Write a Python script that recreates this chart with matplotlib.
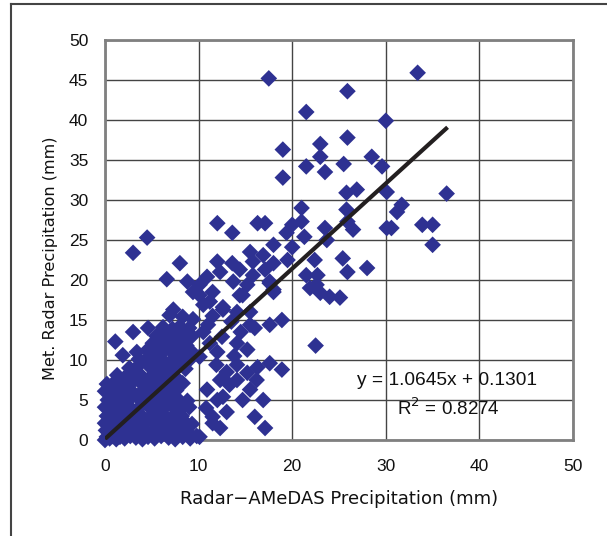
import matplotlib
matplotlib.use('Agg')
import matplotlib.pyplot as plt
from matplotlib.lines import Line2D
import numpy as np

plt.rcParams['font.family'] = ['Liberation Sans', 'DejaVu Sans']

# scattered points (mm)
x_hi = [17.5, 33.4, 25.9, 21.5, 30.0, 19.0, 23.0, 25.9, 23.0, 21.5, 25.5, 28.5, 29.6, 23.5, 19.0,
        31.7, 31.2, 30.1, 30.6, 33.9, 35.0, 36.5, 35.0, 30.1, 26.9, 25.8, 25.8, 26.5, 25.9, 28.0,
        25.4, 25.9, 17.1, 21.0, 20.0, 19.4, 21.0, 21.3, 23.5, 23.7, 18.0, 20.0, 16.9, 18.0, 19.5,
        22.4, 21.5, 22.7, 22.6, 17.6, 18.0, 23.0, 24.0, 25.1, 21.9, 17.1, 17.6, 18.0, 22.5]
y_hi = [45.2, 45.9, 43.6, 41.0, 39.9, 36.3, 37.0, 37.8, 35.4, 34.2, 34.5, 35.4, 34.2, 33.5, 32.8,
        29.4, 28.5, 26.5, 26.5, 26.9, 26.9, 30.8, 24.4, 31.0, 31.3, 30.9, 28.8, 26.3, 27.3, 21.5,
        22.7, 21.0, 27.1, 29.0, 26.9, 25.9, 27.3, 25.4, 26.5, 25.0, 24.4, 24.1, 23.1, 22.1, 22.5,
        22.5, 20.6, 20.6, 19.4, 19.6, 18.5, 18.4, 17.9, 17.8, 19.0, 21.3, 19.8, 18.8, 11.8]

x_mid = [4.5, 3.0, 12.0, 13.6, 16.3, 8.0, 15.5, 6.6, 12.0, 13.6, 14.4, 8.8, 10.1, 10.9, 12.3,
         13.7, 15.2, 10.1, 11.5, 14.4, 15.8, 7.3, 9.4, 11.2, 12.6, 14.7, 15.8,
         10.5, 12.6, 14.1, 15.5, 17.6, 18.9, 15.5, 14.1, 15.2, 17.6, 18.9, 14.1, 15.5, 16.2, 16.9,
         16.0, 17.1, 12.6, 12.0, 11.5, 12.3, 10.1, 11.0, 12.5, 11.2, 10.1, 11.9, 13.0, 14.1, 15.2,
         16.3, 10.9, 11.5, 12.3, 14.7, 13.3, 10.5, 11.5, 13.5, 14.5, 16.0, 13.0, 10.8, 12.0, 13.8]
y_mid = [25.3, 23.4, 27.1, 25.9, 27.1, 22.1, 23.5, 20.1, 22.3, 22.1, 21.3, 19.8, 19.4, 20.4, 21.0,
         19.8, 19.4, 18.1, 18.5, 18.1, 22.3, 16.3, 18.5, 17.3, 16.6, 18.1, 20.6,
         16.9, 16.3, 16.0, 16.0, 14.4, 15.0, 14.4, 12.1, 11.3, 9.6, 8.8, 7.5, 6.3, 7.5, 5.0,
         2.9, 1.5, 5.4, 5.0, 2.9, 1.5, 0.4, 14.4, 12.9, 12.1, 10.4, 9.4, 8.5, 9.4, 8.4,
         9.1, 6.3, 2.1, 7.5, 5.0, 6.9, 13.5, 15.5, 14.8, 13.5, 14.0, 3.5, 4.0, 11.0, 10.5]

# dense cluster near the origin
x_low = [0.0, 0.2, 0.5, 0.8, 1.2, 1.6, 2.1, 2.7, 3.3, 4.0, 4.6, 5.3, 6.0, 6.8, 7.5, 8.3, 9.1, 9.8,
         0.1, 0.6, 1.3, 2.0, 2.8, 3.6, 4.5, 5.2, 6.1, 7.0, 7.9, 8.8,
         0.0, 0.4, 1.0, 1.7, 2.5, 3.4, 4.2, 5.0, 5.9, 6.8, 7.6, 8.5, 9.3,
         0.2, 0.9, 1.6, 2.4, 3.2, 4.1, 4.9, 5.6, 6.5, 7.4, 8.2,
         0.0, 0.5, 1.2, 2.0, 2.9, 3.7, 4.6, 5.5, 6.3, 7.2, 8.1, 9.0,
         0.3, 1.0, 1.8, 2.6, 3.5, 4.4, 5.2, 6.1, 7.0, 7.8, 8.8,
         0.0, 0.6, 1.4, 2.3, 3.1, 4.0, 4.9, 5.8, 6.7, 7.6,
         0.2, 1.0, 1.9, 2.8, 3.7, 4.5, 5.4, 6.3, 7.2, 8.3,
         1.3, 2.2, 3.0, 3.9, 4.8, 5.7, 6.5, 7.5,
         2.6, 3.5, 5.0, 5.9, 6.8, 7.7, 8.6,
         3.6, 4.3, 5.2, 6.1, 7.0, 8.0, 9.0,
         3.4, 4.5, 5.5, 6.3, 7.2, 8.1, 9.2,
         5.1, 6.0, 6.9, 7.8, 8.7,
         5.5, 6.4, 7.3, 8.2, 9.3,
         6.2, 7.2, 8.0, 9.0,
         6.9, 8.3, 9.4,
         1.1, 1.9, 3.0, 4.6]
y_low = [0.0, 0.4, 0.2, 0.5, 0.1, 0.4, 0.2, 0.5, 0.3, 0.1, 0.4, 0.2, 0.5, 0.3, 0.1, 0.4, 0.2, 0.5,
         1.2, 1.0, 1.3, 0.9, 1.1, 1.4, 1.0, 1.2, 0.9, 1.3, 1.1, 1.0,
         2.1, 1.9, 2.3, 2.0, 2.2, 1.8, 2.1, 2.4, 2.0, 2.2, 1.9, 2.3, 2.0,
         3.0, 3.2, 2.9, 3.1, 3.3, 2.8, 3.0, 3.2, 2.9, 3.1, 3.0,
         4.1, 3.9, 4.2, 4.0, 3.8, 4.1, 4.3, 3.9, 4.0, 4.2, 3.9, 4.1,
         5.0, 5.2, 4.9, 5.1, 5.3, 5.0, 4.8, 5.2, 5.0, 5.1, 4.9,
         6.1, 5.9, 6.2, 6.0, 5.8, 6.1, 6.3, 5.9, 6.0, 6.2,
         7.0, 7.2, 6.9, 7.1, 7.3, 7.0, 6.8, 7.2, 7.0, 7.1,
         8.1, 7.9, 8.2, 8.0, 7.8, 8.1, 8.3, 7.9,
         9.0, 9.2, 8.9, 9.1, 9.0, 9.2, 8.9,
         10.1, 9.9, 10.2, 10.0, 9.8, 10.1, 10.0,
         11.0, 11.2, 10.9, 11.1, 11.0, 10.8, 11.1,
         12.1, 11.9, 12.2, 12.0, 11.8,
         13.0, 13.2, 12.9, 13.1, 13.0,
         14.1, 13.9, 14.2, 14.0,
         15.6, 15.4, 15.1,
         12.3, 10.6, 13.5, 14.0]

x_all = np.array(x_hi + x_mid + x_low)
y_all = np.array(y_hi + y_mid + y_low)

slope = 1.0645
intercept = 0.1301
r2 = 0.8274
fit_x = np.array([0.0, 36.6])

fig = plt.figure(figsize=(6.07, 5.36), dpi=100)
ax = fig.add_axes([105/607, 96/536, 468/607, 400/536])

ax.scatter(x_all, y_all, marker='D', s=72, color='#2E3192', edgecolors='none', zorder=3, clip_on=False)
ax.plot(fit_x, slope*fit_x + intercept, color='#231F20', lw=3, zorder=4, solid_capstyle='butt')

ax.set_xlim(0, 50)
ax.set_ylim(0, 50)
ax.set_xticks(range(0, 51, 10))
ax.set_yticks(range(0, 51, 5))
ax.grid(True, color='#444444', lw=1)
ax.set_axisbelow(True)
for s in ax.spines.values():
    s.set_color('#808080')
    s.set_linewidth(2)
ax.tick_params(length=0, labelsize=12.5, colors='#111111')
ax.tick_params(axis='y', pad=12)
ax.tick_params(axis='x', pad=14)

ax.set_xlabel('Radar\u2212AMeDAS Precipitation (mm)', fontsize=13, color='#111111', family='DejaVu Sans')
ax.set_ylabel('Met. Radar Precipitation (mm)', fontsize=11.6, color='#111111', family='DejaVu Sans')
ax.xaxis.set_label_coords(0.5, -0.125)
ax.yaxis.set_label_coords(-0.1, 0.455)

ax.text(26.9, 7.4, 'y = %.4fx + %.4f' % (slope, intercept), fontsize=13.8, va='center', color='#111111')
ax.text(31.2, 4.0, 'R$^2$ = %.4f' % r2, fontsize=13.5, va='center', color='#111111')

fig.add_artist(Line2D([11/607, 11/607], [0, 1 - 3.5/536], color='#444444', lw=1.5))
fig.add_artist(Line2D([11/607, 1], [1 - 3.5/536, 1 - 3.5/536], color='#444444', lw=1.5))

fig.savefig('out.png', dpi=100)
